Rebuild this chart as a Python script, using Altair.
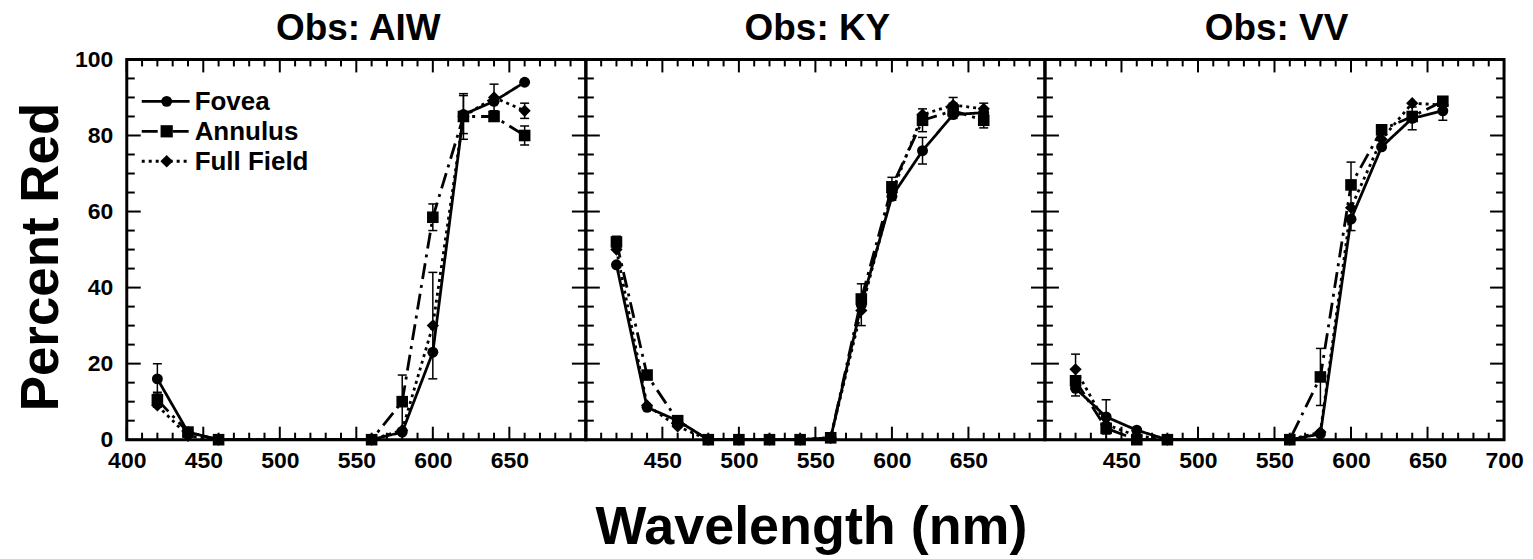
import altair as alt
import pandas as pd

SERIES = ["Fovea", "Annulus", "Full Field"]
PANEL_TITLES = ["Obs: AIW", "Obs: KY", "Obs: VV"]
X_TITLE = "Wavelength (nm)"
Y_TITLE = "Percent Red"

# ---- Obs: AIW ----
aiw_wl = [420, 440, 460, 560, 580, 600, 620, 640, 660]
aiw_fovea = [16, 2, 0, 0, 2, 23, 85.5, 89, 94]
aiw_annulus = [10.5, 2, 0, 0, 10, 58.5, 85, 85, 80]
aiw_full = [9, 1, 0, 0, 2.5, 30, 85, 90, 86.5]
aiw_fovea_err = [4, 0, 0, 0, 0, 0, 5, 0, 0]
aiw_annulus_err = [2, 0, 0, 0, 7, 3.5, 0, 0, 2.5]
aiw_full_err = [0, 0, 0, 0, 0, 14, 6, 3.5, 2]

# ---- Obs: KY ----
ky_wl = [420, 440, 460, 480, 500, 520, 540, 560, 580, 600, 620, 640, 660]
ky_fovea = [46, 8.5, 5, 0, 0, 0, 0, 0.5, 35.5, 64, 76, 85.5, 86]
ky_annulus = [52, 17, 5, 0, 0, 0, 0, 0.5, 37, 66.5, 84, 86.5, 84]
ky_full = [50, 9, 3.5, 0, 0, 0, 0, 0.5, 34, 65, 85.5, 88, 87]
ky_fovea_err = [0, 0, 0, 0, 0, 0, 0, 0, 5.5, 0, 3.5, 0, 0]
ky_annulus_err = [1.5, 0, 0, 0, 0, 0, 0, 0, 0, 2.5, 3, 2, 2]
ky_full_err = [0, 0, 0, 0, 0, 0, 0, 0, 0, 2, 0, 2, 1.5]

# ---- Obs: VV ----
vv_wl = [420, 440, 460, 480, 560, 580, 600, 620, 640, 660]
vv_fovea = [13.5, 6, 2.5, 0, 0, 1.5, 58, 77, 84.5, 86.5]
vv_annulus = [15.5, 3, 0, 0, 0, 16.5, 67, 81.5, 85, 89]
vv_full = [18.5, 4, 1, 0, 0, 2, 61, 79, 88.5, 88]
vv_fovea_err = [2, 4.5, 0, 0, 0, 0, 3, 0, 3, 2.5]
vv_annulus_err = [0, 0, 0, 0, 0, 7.5, 6, 0, 0, 1]
vv_full_err = [4, 0, 0, 0, 0, 0, 0, 0, 0, 0]

# axis tick values
x_labels_1 = [400, 450, 500, 550, 600, 650]
x_labels_2 = [450, 500, 550, 600, 650]
x_labels_3 = [450, 500, 550, 600, 650, 700]
x_major = [400, 450, 500, 550, 600, 650, 700]
x_minor = [v for v in range(400, 701, 10) if v % 50 != 0]
y_major = [0, 20, 40, 60, 80, 100]
y_minor = [v for v in range(0, 101, 5) if v % 20 != 0]

W, H = 460, 381
FONT = "Liberation Sans"
DASHES = [[1, 0], [16, 6, 3, 6], [3, 4]]
SHAPES = ["circle", "square", "diamond"]
SIZES = [120, 150, 160]


def build_df(wl, fov, ann, ff, fe, ae, fe2):
    rows = []
    for name, vals, errs in zip(SERIES, [fov, ann, ff], [fe, ae, fe2]):
        for w, v, e in zip(wl, vals, errs):
            rows.append({"wl": w, "value": v, "err": e, "lo": v - e,
                         "hi": v + e, "series": name})
    return pd.DataFrame(rows)


def text_layer(label, x, y, size, angle=0):
    return alt.Chart(pd.DataFrame({"label": [label]})).mark_text(
        align="center", baseline="alphabetic", fontSize=size,
        fontWeight="bold", color="black", font=FONT, angle=angle
    ).encode(x=alt.value(x), y=alt.value(y), text="label:N")


def panel(title, df, labels, show_y, show_xtitle, legend):
    xscale = alt.Scale(domain=[400, 700], nice=False, zero=False)
    yscale = alt.Scale(domain=[0, 100], nice=False)
    xaxis = alt.Axis(values=labels, ticks=False, tickSize=0, domain=False,
                     grid=False, labelFontSize=23, labelFontWeight="bold",
                     labelColor="black", labelPadding=10, labelFlush=False)
    if show_y:
        yaxis = alt.Axis(values=y_major, ticks=False, tickSize=0, domain=False,
                         grid=False, labelFontSize=23, labelFontWeight="bold",
                         labelColor="black", labelPadding=14,
                         labelFlush=False)
    else:
        yaxis = None

    def X(field="wl"):
        return alt.X(f"{field}:Q", scale=xscale, axis=xaxis, title=None)

    def Y(field="value"):
        return alt.Y(f"{field}:Q", scale=yscale, axis=yaxis, title=None)

    base = alt.Chart(df)
    dash = alt.StrokeDash("series:N",
                          scale=alt.Scale(domain=SERIES, range=DASHES),
                          legend=None)
    lines = base.mark_line(color="black", strokeWidth=2.8).encode(
        x=X(), y=Y(), strokeDash=dash, detail="series:N")
    errs = base.transform_filter("datum.err > 0")
    err_rule = errs.mark_rule(color="black", strokeWidth=1.5).encode(
        x=X(), y=Y("lo"), y2="hi:Q")
    cap_hi = errs.mark_tick(orient="horizontal", color="black", size=9,
                            thickness=1.5, opacity=1).encode(x=X(), y=Y("hi"))
    cap_lo = errs.mark_tick(orient="horizontal", color="black", size=9,
                            thickness=1.5, opacity=1).encode(x=X(), y=Y("lo"))
    pts = base.mark_point(filled=True, color="black", opacity=1).encode(
        x=X(), y=Y(),
        shape=alt.Shape("series:N", scale=alt.Scale(domain=SERIES, range=SHAPES),
                        legend=None),
        size=alt.Size("series:N", scale=alt.Scale(domain=SERIES, range=SIZES),
                      legend=None))

    layers = [lines, err_rule, cap_hi, cap_lo, pts]

    # inward ticks on all four sides
    for vals, ln in [(x_major, 13), (x_minor, 7)]:
        tc = alt.Chart(pd.DataFrame({"wl": vals}))
        layers.append(tc.mark_rule(color="black", strokeWidth=2).encode(
            x=X(), y=alt.value(H), y2=alt.value(H - ln)))
        layers.append(tc.mark_rule(color="black", strokeWidth=2).encode(
            x=X(), y=alt.value(0), y2=alt.value(ln)))
    for vals, ln in [(y_major, 14), (y_minor, 8)]:
        tc = alt.Chart(pd.DataFrame({"value": vals}))
        layers.append(tc.mark_rule(color="black", strokeWidth=2).encode(
            y=Y(), x=alt.value(0), x2=alt.value(ln)))
        layers.append(tc.mark_rule(color="black", strokeWidth=2).encode(
            y=Y(), x=alt.value(W), x2=alt.value(W - ln)))

    if legend:
        rows_y = [42, 72, 102]
        for name, yy, dsh, shp, sz in zip(SERIES, rows_y, DASHES, SHAPES, SIZES):
            lc = alt.Chart(pd.DataFrame({"series": [name]}))
            layers.append(lc.mark_rule(color="black", strokeWidth=2.8,
                                       strokeDash=dsh).encode(
                x=alt.value(15), x2=alt.value(63), y=alt.value(yy)))
            layers.append(lc.mark_point(filled=True, color="black", opacity=1,
                                        shape=shp, size=sz).encode(
                x=alt.value(40), y=alt.value(yy)))
            layers.append(lc.mark_text(align="left", baseline="middle",
                                       fontSize=26, fontWeight="bold",
                                       color="black", font=FONT).encode(
                x=alt.value(68), y=alt.value(yy + 1), text="series:N"))

    # panel title
    layers.append(text_layer(title, 232, -19, 37))
    if show_y:
        layers.append(text_layer(Y_TITLE, -69, 198, 53, angle=270))
    if show_xtitle:
        layers.append(text_layer(X_TITLE, 226, 486, 54))

    return alt.layer(*layers).properties(width=W, height=H)


p1 = panel(PANEL_TITLES[0],
           build_df(aiw_wl, aiw_fovea, aiw_annulus, aiw_full,
                    aiw_fovea_err, aiw_annulus_err, aiw_full_err),
           x_labels_1, True, False, True)
p2 = panel(PANEL_TITLES[1],
           build_df(ky_wl, ky_fovea, ky_annulus, ky_full,
                    ky_fovea_err, ky_annulus_err, ky_full_err),
           x_labels_2, False, True, False)
p3 = panel(PANEL_TITLES[2],
           build_df(vv_wl, vv_fovea, vv_annulus, vv_full,
                    vv_fovea_err, vv_annulus_err, vv_full_err),
           x_labels_3, False, False, False)

chart = alt.hconcat(p1, p2, p3, spacing=0, bounds="flush").properties(
    padding={"left": 6, "top": 0, "right": 0, "bottom": 0}
).configure(font=FONT).configure_view(stroke="black", strokeWidth=3)

chart.save("out.html", embed_options={"renderer": "svg", "actions": False})
